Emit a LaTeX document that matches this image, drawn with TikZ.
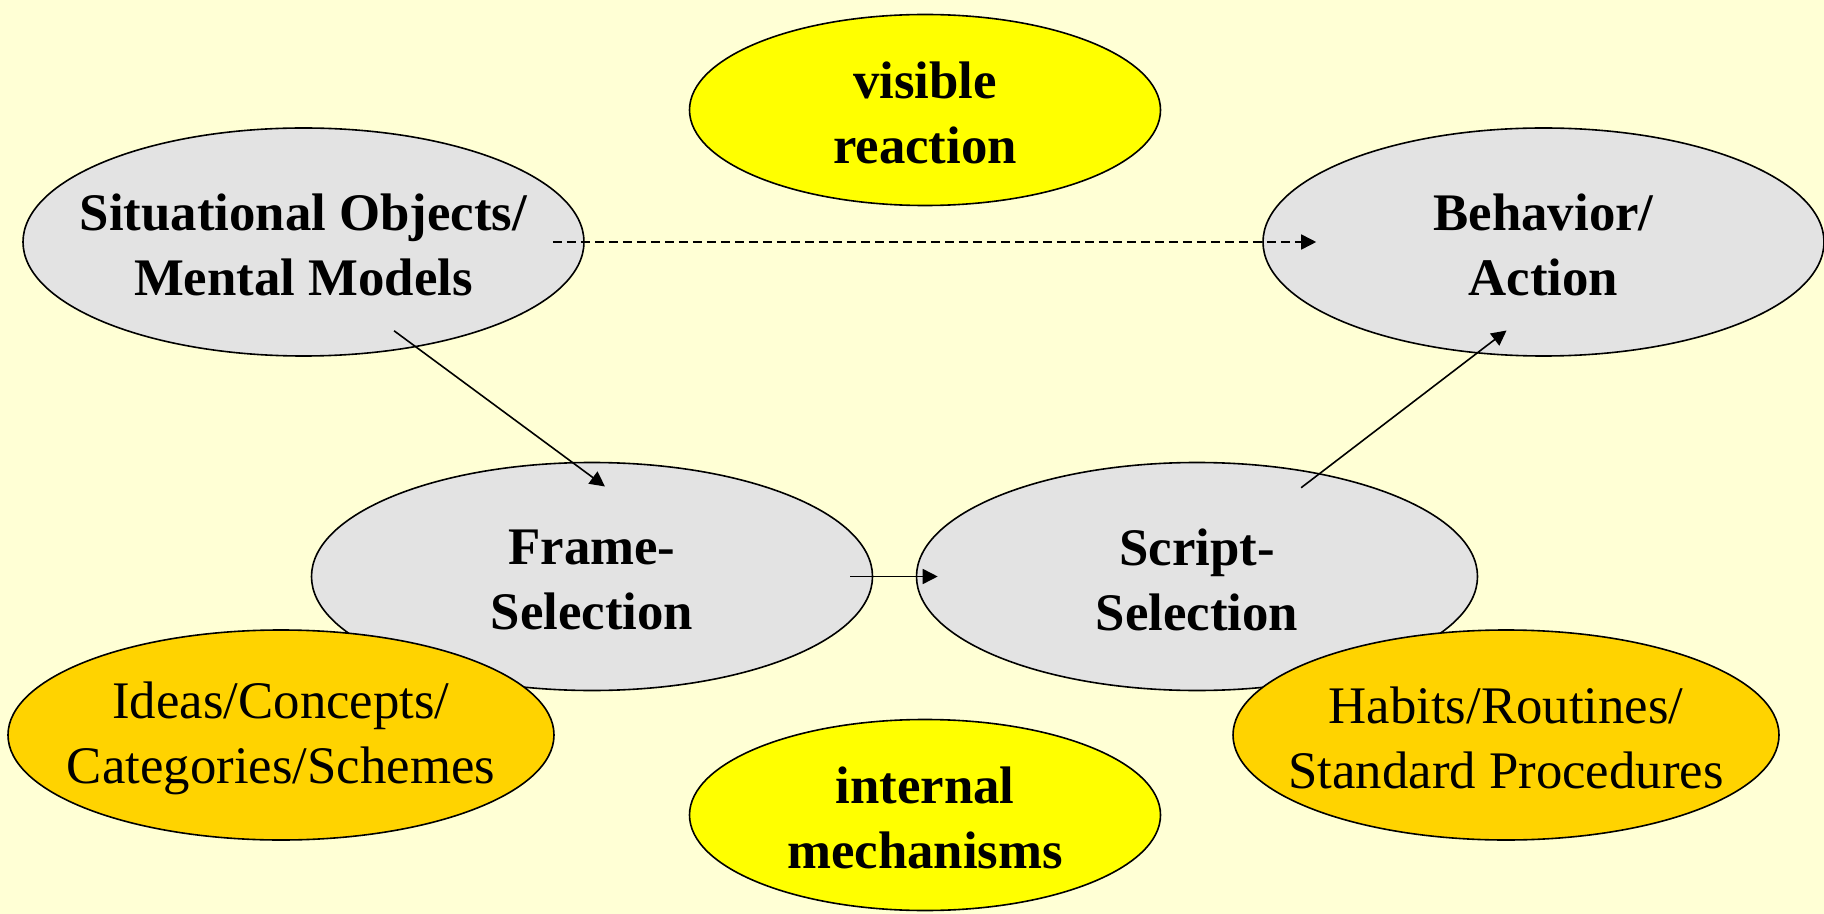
\documentclass[tikz,border=0pt]{standalone}
\usepackage{fontspec}
\setmainfont{Liberation Serif}
\usetikzlibrary{shapes.geometric,arrows.meta}

\definecolor{bgyellow}{HTML}{FFFFD5}
\definecolor{ellgray}{HTML}{E3E3E3}
\definecolor{brightyellow}{HTML}{FFFF00}
\definecolor{goldyellow}{HTML}{FFD300}

\tikzset{
  ell/.style={ellipse, draw=black, line width=0.8pt, inner sep=0pt},
  stageell/.style={ell, fill=ellgray, minimum width=280.5pt, minimum height=114pt},
  stockell/.style={ell, fill=goldyellow, minimum width=273pt, minimum height=105pt},
  levelell/.style={ell, fill=brightyellow, minimum width=235.5pt, minimum height=95.5pt},
  boldtxt/.style={font=\fontsize{26.4}{32.5}\selectfont\bfseries, align=center, inner sep=0pt, yshift=-1.5pt},
  plaintxt/.style={font=\fontsize{26.4}{32.5}\selectfont, align=center, inner sep=0pt, yshift=-1.5pt},
  link/.style={-{Triangle[length=7.5pt,width=7.5pt]}, line width=0.8pt},
}

\begin{document}
\begin{tikzpicture}[x=0.5pt,y=-0.5pt]
% Background
\fill[bgyellow] (0,0) rectangle (1824,914);
\useasboundingbox (0,0) rectangle (1824,914);

% Levels
\node[levelell, label={[boldtxt]center:{visible\\reaction}}] (visible) at (925,110) {};
\node[levelell, label={[boldtxt]center:{internal\\mechanisms}}] (internal) at (925,815) {};

% Upper row
\node[stageell, label={[boldtxt]center:{Situational Objects/\\Mental Models}}] (sit) at (303.5,242) {};
\node[stageell, label={[boldtxt]center:{Behavior/\\Action}}] (beh) at (1543.5,242) {};

% Lower row
\node[stageell, label={[boldtxt]center:{Frame-\\Selection}}] (frame) at (592,576.5) {};
\node[stageell, label={[boldtxt]center:{Script-\\Selection}}] (script) at (1197,576.5) {};

% Stocks
\node[stockell, label={[plaintxt]center:{Ideas/Concepts/\\Categories/Schemes}}] (ideas) at (281,735) {};
\node[stockell, label={[plaintxt]center:{Habits/Routines/\\Standard Procedures}}] (habits) at (1506,735) {};

% Links
\draw[link, dash pattern=on 4.5pt off 2.5pt, shorten <=-16pt, shorten >=-27pt] (sit.-0.4) -- (beh.180.4);
\draw[link, shorten <=-13.8pt, shorten >=-20.6pt] (sit.-43.1) -- (frame.100.5);
\draw[link, shorten <=-11.5pt, shorten >=-11pt] (frame.east) -- (script.west);
\draw[link, shorten <=-11.9pt, shorten >=-18.9pt] (script.40.8) -- (beh.-121);
\end{tikzpicture}
\end{document}
